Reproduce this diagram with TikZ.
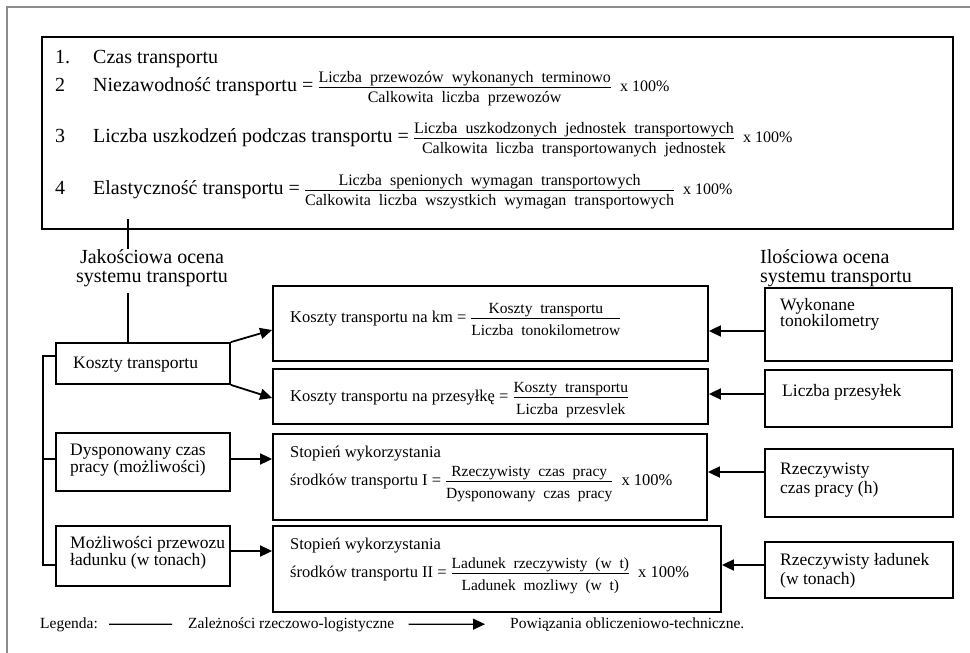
\documentclass[tikz,border=0pt]{standalone}
\usepackage{amsmath}
\usepackage{fontspec}
\setmainfont{Liberation Serif}
\usepackage{tikz}
\usetikzlibrary{arrows.meta, calc}
\newcommand{\duzy}{\fontsize{20}{22}\selectfont}
\newcommand{\ulam}{\fontsize{16}{18}\selectfont}
\newcommand{\sred}{\fontsize{15.5}{18}\selectfont}
\newcommand{\srodek}{\fontsize{16.5}{18}\selectfont}
\newcommand{\mulam}{\fontsize{15.5}{17}\selectfont}
\newcommand{\lewe}{\fontsize{17.5}{15.5}\selectfont}
\newcommand{\prawe}{\fontsize{17.5}{19}\selectfont}
\newcommand{\etyk}{\fontsize{20}{19.5}\selectfont}
\newcommand{\rozstaw}{\spaceskip=.5em plus .2em minus .1em\relax}
\newcommand{\ulamek}[3][14pt]{\genfrac{}{}{1.1pt}{1}%
  {\hbox{\rozstaw #2}}{\rule{0pt}{#1}\hbox{\rozstaw #3}}}

\begin{document}
\begin{tikzpicture}[
  x=1pt, y=-1pt,
  txt/.style={inner sep=0pt, anchor=base west},
  pole/.style 2 args={draw, line width=1.8pt, fill=white, inner sep=0pt,
    minimum width=#1, minimum height=#2},
  lin/.style={line width=1.8pt},
  arr/.style={line width=1.8pt, -{Triangle[length=12pt, width=11pt]}},
  ramka/.style={line width=1.2pt, black!45}
]
  \useasboundingbox (0,0) rectangle (970,653);
  \draw[ramka] (7,653) -- (7,7) -- (970,7);

  \node[pole={911pt}{192pt}, line width=2pt] (top) at (497.5,133) {};
  \foreach \i/\n/\y in {1/1./63, 2/2/91.5, 3/3/142.5, 4/4/194.5}
    \node[txt, font=\duzy] (nr\i) at (55,\y) {\n};
  \node[txt, font=\duzy] (wsk1) at (93,63) {Czas transportu};
  \node[txt, font=\ulam] (wsk2) at (93,91.5)
    {{\duzy Niezawodność transportu =} $\ulamek{Liczba przewozów wykonanych terminowo}{Calkowita liczba przewozów}$ \ x 100\%};
  \node[txt, font=\ulam] (wsk3) at (93,142.5)
    {{\duzy Liczba uszkodzeń podczas transportu =} $\ulamek{Liczba uszkodzonych jednostek transportowych}{Calkowita liczba transportowanych jednostek}$ \ x 100\%};
  \node[txt, font=\ulam] (wsk4) at (93,194.5)
    {{\duzy Elastyczność transportu =} $\ulamek{Liczba spenionych wymagan transportowych}{Calkowita liczba wszystkich wymagan transportowych}$ \ x 100\%};

  \node[font=\etyk, align=center, inner sep=0pt] (jak) at (152,268)
    {Jakościowa ocena\\systemu transportu};
  \node[font=\etyk, align=left, inner sep=0pt, anchor=west] (ilo) at (760,268)
    {Ilościowa ocena\\systemu transportu};

  \node[pole={174pt}{41pt}] (kt) at (143,363.5) {};
  \node[pole={174pt}{58pt}] (dcp) at (143,462) {};
  \node[pole={174pt}{60pt}] (mpl) at (143,556) {};
  \node[txt, font=\lewe] (kt-t) at (73,368) {Koszty transportu};
  \node[txt, font=\lewe, align=left] (dcp-t) at (70,472.5)
    {Dysponowany czas\\pracy (możliwości)};
  \node[txt, font=\lewe, align=left] (mpl-t) at (70,565.5)
    {Możliwości przewozu\\ładunku (w tonach)};

  \node[pole={435pt}{75pt}] (kkm) at (490.5,323.5) {};
  \node[pole={435pt}{55pt}] (kpr) at (490.5,396.5) {};
  \node[pole={434pt}{86pt}] (sw1) at (490,477) {};
  \node[pole={448pt}{86pt}] (sw2) at (497,569) {};
  \node[txt, font=\mulam] (kkm-t) at (290,322.5)
    {{\srodek Koszty transportu na km =} $\ulamek[15pt]{Koszty transportu}{Liczba tonokilometrow}$};
  \node[txt, font=\mulam] (kpr-t) at (290,401.5)
    {{\srodek Koszty transportu na przesyłkę =} $\ulamek[15pt]{Koszty transportu}{Liczba przesvlek}$};
  \node[txt, font=\srodek] (sw1-a) at (290,457) {Stopień wykorzystania};
  \node[txt, font=\mulam] (sw1-b) at (290,485.5)
    {{\srodek środków transportu I =} $\ulamek[15pt]{Rzeczywisty czas pracy}{Dysponowany czas pracy}$ {\srodek\ x 100\%}};
  \node[txt, font=\srodek] (sw2-a) at (290,549) {Stopień wykorzystania};
  \node[txt, font=\mulam] (sw2-b) at (290,577.5)
    {{\srodek środków transportu II =} $\ulamek[15pt]{Ladunek rzeczywisty (w t)}{Ladunek mozliwy (w t)}$ {\srodek\ x 100\%}};

  \node[pole={187pt}{73pt}] (tkm) at (858.5,324.5) {};
  \node[pole={187pt}{57pt}] (lp) at (858.5,398.5) {};
  \node[pole={188pt}{68pt}] (rcp) at (859,483) {};
  \node[pole={188pt}{56pt}] (rld) at (859,570) {};
  \node[txt, font=\fontsize{17.5}{16}\selectfont, align=left] (tkm-t) at (780,326)
    {Wykonane\\tonokilometry};
  \node[txt, font=\prawe] (lp-t) at (782,396) {Liczba przesyłek};
  \node[txt, font=\prawe, align=left] (rcp-t) at (780,493)
    {Rzeczywisty\\czas pracy (h)};
  \node[txt, font=\prawe, align=left] (rld-t) at (780,584)
    {Rzeczywisty ładunek\\(w tonach)};

  \coordinate (jx) at (128,0);
  \draw[lin] (jx |- top.south) ++(0,-11) -- (jx |- jak.north);
  \draw[lin, shorten <=6pt] (jx |- jak.south) -- (jx |- kt.north);
  \coordinate (bx) at (43,0);
  \path ([yshift=7.5pt]kt.west) coordinate (kt-l)
        ([yshift=3pt]dcp.west) coordinate (dcp-l)
        ([yshift=-9pt]mpl.west) coordinate (mpl-l);
  \draw[lin] (kt-l) -| (bx |- mpl-l) -- (mpl-l);
  \draw[lin] (bx |- dcp-l) -- (dcp-l);

  \draw[arr] (kt.north east) -- ([yshift=-6.5pt]kkm.west);
  \draw[arr] (kt.south east) -- ([yshift=-1.5pt]kpr.west);
  \foreach \z/\d/\s in {dcp/sw1/3, mpl/sw2/5}{
    \path ([yshift=\s pt]\z.east) coordinate (p);
    \draw[arr] (p) -- (p -| \d.west);
  }
  \foreach \z/\d/\s in {tkm/kkm/-6.5, lp/kpr/4.5, rcp/sw1/11, rld/sw2/5}{
    \path ([yshift=\s pt]\z.west) coordinate (p);
    \draw[arr] (p) -- (p -| \d.east);
  }

  \node[txt, font=\sred] (leg) at (40,628) {Legenda:};
  \node[txt, font=\sred] (zal) at (188,628) {Zależności rzeczowo-logistyczne};
  \node[txt, font=\sred] (pow) at (510,628) {Powiązania obliczeniowo-techniczne.};
  \draw[lin, line width=1.2pt, shorten <=11pt, shorten >=16pt] (leg.east) -- (zal.west);
  \draw[arr, line width=1.2pt, shorten <=14pt, shorten >=25pt] (zal.east) -- (pow.west);
\end{tikzpicture}
\end{document}
